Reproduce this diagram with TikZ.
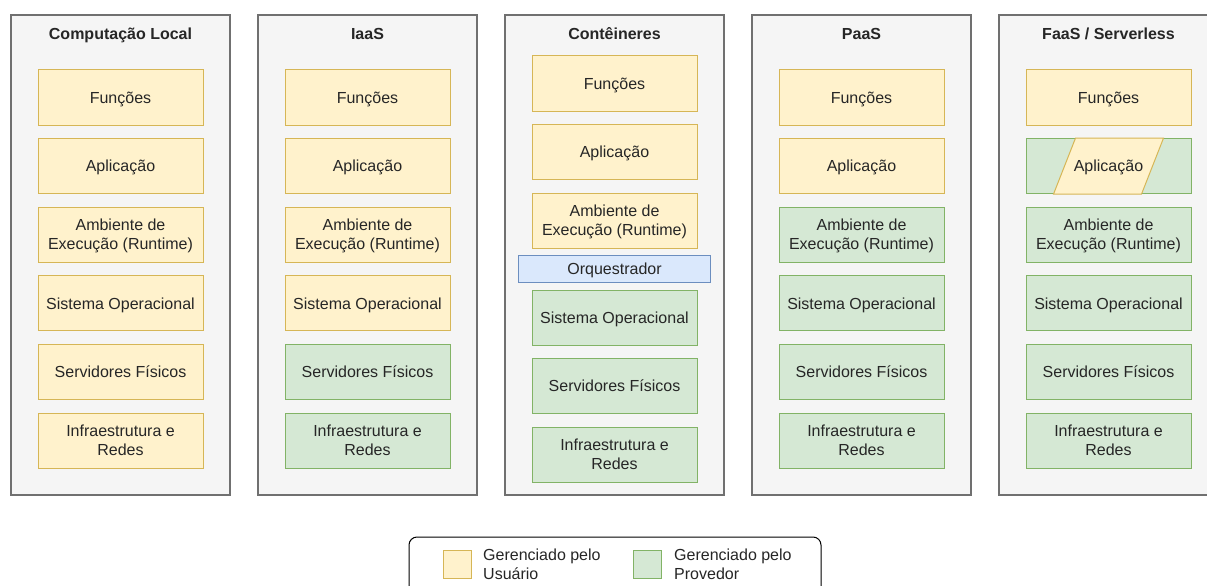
\documentclass[tikz,border=0pt]{standalone}
\usepackage{fontspec}
\setmainfont{Liberation Sans}

% drawio-like palette
\definecolor{panelFill}{HTML}{F5F5F5}
\definecolor{panelLine}{HTML}{707070}
\definecolor{userFill}{HTML}{FFF2CC}
\definecolor{userLine}{HTML}{D6B656}
\definecolor{provFill}{HTML}{D5E8D4}
\definecolor{provLine}{HTML}{82B366}
\definecolor{orchFill}{HTML}{DAE8FC}
\definecolor{orchLine}{HTML}{6C8EBF}
\definecolor{inkGray}{HTML}{262626}

\tikzset{
  txt/.style={text=inkGray, font=\fontsize{16}{19}\selectfont, align=center, inner sep=0pt, text depth=0pt},
  panel/.style={draw=panelLine, fill=panelFill, line width=1.2pt},
  title/.style={txt, font=\fontsize{16}{19}\selectfont\bfseries},
  layer/.style={txt, minimum width=165pt, minimum height=55pt, line width=1pt},
  usr/.style={layer, draw=userLine, fill=userFill},
  prov/.style={layer, draw=provLine, fill=provFill},
  orch/.style={txt, minimum width=192pt, minimum height=27pt, line width=1pt, draw=orchLine, fill=orchFill},
  swatch/.style={minimum width=28pt, minimum height=28pt, line width=1pt, inner sep=0pt},
}

\begin{document}
\begin{tikzpicture}[x=1pt, y=-1pt]

\useasboundingbox (0,0) rectangle (1207,586);
\clip (0,0) rectangle (1207,586);

% Column panels and titles
\foreach \col/\cx/\name in {local/120.5/Computação Local, iaas/367.5/IaaS, cont/614.5/Contêineres, paas/861.5/PaaS, faas/1108.5/{FaaS / Serverless}} {
  \draw[panel] (\cx-109.5,15) rectangle (\cx+109.5,495);
  \node[title] (\col-title) at (\cx,34) {\name};
}

% Stacked layers (\n = layers managed by the provider, counted from the bottom)
\foreach \col/\cx/\n in {local/120.5/0, iaas/367.5/2, paas/861.5/4, faas/1108.5/5} {
  \foreach \i/\what in {0/Funções, 1/Aplicação, 2/{Ambiente de\\Execução (Runtime)},
                        3/Sistema Operacional, 4/Servidores Físicos, 5/{Infraestrutura e\\Redes}} {
    \pgfmathparse{\i>=6-\n ? "prov" : "usr"}
    \edef\who{\pgfmathresult}
    \node[\who] (\col-\i) at (\cx,97.5+68.6*\i) {\what};
  }
}

% Contêineres: same stack with the orchestrator in between
\foreach \i/\what/\who in {0/Funções/usr, 1/Aplicação/usr, 2/{Ambiente de\\Execução (Runtime)}/usr} {
  \node[\who] (cont-\i) at (614.5,83.5+68.5*\i) {\what};
}
\node[orch] (cont-orch) at (614.5,268.5) {Orquestrador};
\foreach \i/\what in {3/Sistema Operacional, 4/Servidores Físicos, 5/{Infraestrutura e\\Redes}} {
  \node[prov] (cont-\i) at (614.5,112+68.5*\i) {\what};
}

% FaaS: application shared between user and provider
\draw[draw=userLine, fill=userFill, line width=1pt]
  ([xshift=-33pt]faas-1.north) -- ([xshift=55pt]faas-1.north)
  -- ([xshift=33pt]faas-1.south) -- ([xshift=-55pt]faas-1.south) -- cycle;
\node[txt] (faas-1-label) at (faas-1) {Aplicação};

% Legend
\draw[draw=black, fill=white, line width=1pt, rounded corners=8pt] (409,537) rectangle (821,610);
\node[swatch, draw=userLine, fill=userFill] (key-user) at (457,564) {};
\node[txt, anchor=west, align=left] (key-user-txt) at (483,564) {Gerenciado pelo\\Usuário};
\node[swatch, draw=provLine, fill=provFill] (key-prov) at (647.5,564) {};
\node[txt, anchor=west, align=left] (key-prov-txt) at (674,564) {Gerenciado pelo\\Provedor};

\end{tikzpicture}
\end{document}
